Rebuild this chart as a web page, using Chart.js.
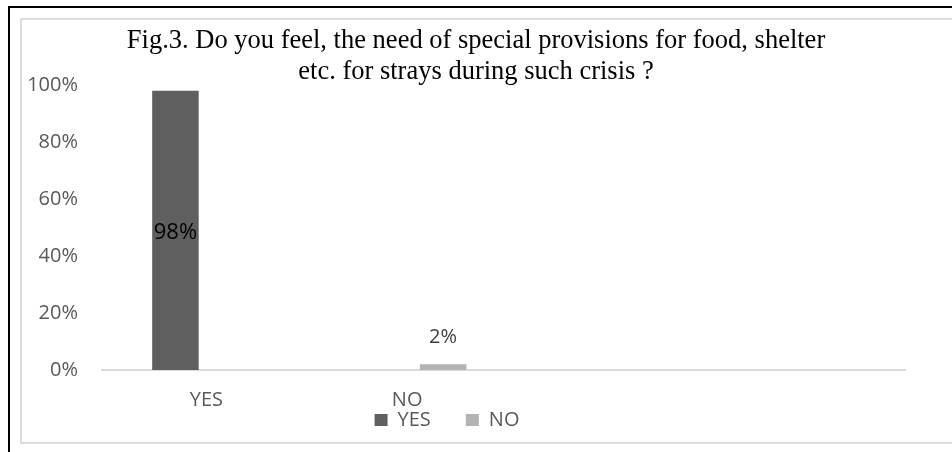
<!DOCTYPE html>
<html>
<head>
<meta charset="utf-8">
<title>Fig.3 strays provisions</title>
<script src="https://cdn.jsdelivr.net/npm/chart.js@4.4.1/dist/chart.umd.min.js"></script>
<style>
  body {
    margin: 0;
    width: 952px;
    height: 452px;
    overflow: hidden;
    background: #fff;
    position: relative;
  }
  .outer-frame {
    position: absolute;
    left: 8px;
    top: 6px;
    width: 1000px;
    height: 1000px;
    border-left: 2px solid #000;
    border-top: 2px solid #000;
  }
  .inner-frame {
    position: absolute;
    left: 20px;
    top: 18px;
    width: 1000px;
    height: 426px;
    box-sizing: border-box;
    border: 2px solid #dcdcdc;
  }
  #chart {
    position: absolute;
    left: 0;
    top: 0;
  }
</style>
</head>
<body>
<div class="outer-frame"></div>
<div class="inner-frame"></div>
<canvas id="chart" width="952" height="452"></canvas>

<script>
// Bars sit in three category slots, the answers in the first two
const categories = ["YES", "NO", ""];
const yesValues = [98, null, null];
const noValues = [null, 2, null];
// Axis text under the plot (Excel spaced these on its own grid)
const axisLabels = ["YES", "NO", "", ""];
const titleLines = [
  "Fig.3. Do you feel, the need of special provisions for food, shelter",
  "etc. for strays during such crisis ?"
];
const yMax = 100;
const yStep = 20;

const sansFont = "'Open Sans'";
const tickColor = "#595959";

// Draw the percentage on each bar (inside for tall bars, above for short ones)
const valueLabels = {
  id: "valueLabels",
  afterDatasetsDraw(chart) {
    const ctx = chart.ctx;
    ctx.save();
    ctx.textAlign = "center";
    ctx.textBaseline = "middle";
    chart.data.datasets.forEach((dataset, i) => {
      if (!dataset.label) return;
      const meta = chart.getDatasetMeta(i);
      meta.data.forEach((bar, j) => {
        const value = dataset.data[j];
        if (value === null || value === undefined) return;
        if (value > 50) {
          ctx.font = "22px " + sansFont;
          ctx.fillStyle = "#000";
          ctx.fillText(value + "%", bar.x, (bar.y + bar.base) / 2 + 2);
        } else {
          ctx.font = "20px " + sansFont;
          ctx.fillStyle = "#404040";
          ctx.fillText(value + "%", bar.x, bar.y - 27);
        }
      });
    });
    ctx.restore();
  }
};

const ctx = document.getElementById("chart").getContext("2d");

new Chart(ctx, {
  type: "bar",
  data: {
    labels: categories,
    datasets: [
      {
        label: "YES",
        data: yesValues,
        backgroundColor: "#5f5f5f",
        stack: "answers",
        xAxisID: "x"
      },
      {
        label: "NO",
        data: noValues,
        backgroundColor: "#b3b3b3",
        stack: "answers",
        xAxisID: "x"
      },
      {
        // empty second slot, keeps the bars left of the category centre
        label: "",
        data: [null, null, null],
        backgroundColor: "rgba(0,0,0,0)",
        stack: "spare",
        xAxisID: "x"
      }
    ]
  },
  options: {
    responsive: false,
    animation: false,
    categoryPercentage: 0.9026,
    barPercentage: 0.385,
    layout: {
      padding: { left: 21, right: 21, top: 0, bottom: 12 }
    },
    plugins: {
      title: {
        display: true,
        text: titleLines,
        color: "#000",
        font: {
          family: "'Liberation Serif'",
          size: 26.5,
          weight: "normal",
          lineHeight: 1.17
        },
        padding: { top: 25.6, bottom: -2.6 }
      },
      legend: {
        position: "bottom",
        labels: {
          boxWidth: 13,
          boxHeight: 12,
          padding: 35,
          color: tickColor,
          font: { family: sansFont, size: 20 }
        }
      },
      tooltip: { enabled: false }
    },
    scales: {
      x: {
        type: "category",
        display: false,
        offset: true
      },
      xLabels: {
        type: "category",
        position: "bottom",
        labels: axisLabels,
        offset: true,
        grid: { display: false, drawTicks: false },
        border: { display: true, color: "#d9d9d9", width: 2 },
        ticks: {
          color: tickColor,
          font: { family: sansFont, size: 20 },
          mirror: true,
          padding: -42,
          labelOffset: 4,
          maxRotation: 0,
          autoSkip: false
        },
        afterFit(scale) {
          scale.height = 5;
        }
      },
      y: {
        min: 0,
        max: yMax,
        grid: { display: false, drawTicks: false },
        border: { display: false },
        ticks: {
          stepSize: yStep,
          color: tickColor,
          font: { family: sansFont, size: 20 },
          padding: 24,
          callback: (v) => v + "%"
        },
        afterFit(scale) {
          scale.width = 81;
        }
      },
      // blank strip on the right so the title stays centred on the frame
      yRight: {
        position: "right",
        grid: { display: false, drawTicks: false },
        border: { display: false },
        ticks: { display: false },
        afterFit(scale) {
          scale.width = 26;
        }
      }
    }
  },
  plugins: [valueLabels]
});
</script>
</body>
</html>
